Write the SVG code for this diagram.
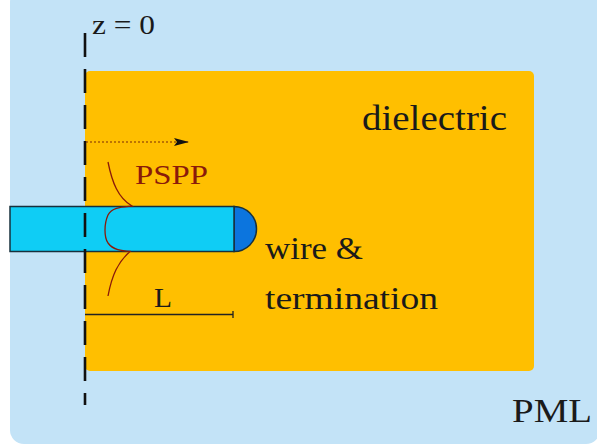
<svg xmlns="http://www.w3.org/2000/svg" width="597" height="448" viewBox="0 0 597 448">
<style>
text{font-family:"Liberation Serif",serif;fill:#1a1a1a}
.out{stroke:#17303c;stroke-width:1.500}
.psp{fill:none;stroke:#8a1a0a;stroke-width:1.300}
</style>
<defs><marker id="a" markerWidth="16" markerHeight="10" refX="14" refY="4" orient="auto" markerUnits="userSpaceOnUse"><path d="M0 0L15 4L0 8L3 4Z" fill="#111"/></marker></defs>
<rect width="597" height="448" fill="#fff"/>
<rect id="pml" x="10" y="-12" width="590" height="456" rx="14" fill="#c3e3f7"/>
<rect id="dielectric" x="85" y="71" width="449" height="300" rx="5" fill="#ffbf00"/>
<g id="wire">
<path class="out" d="M234 206.500A22.500 22.500 0 0 1 234 251.500Z" fill="#0c75de"/>
<rect class="out" x="10" y="206.500" width="224" height="45" fill="#0fcdf5"/>
</g>
<g id="connectors">
<path d="M85 33V405" fill="none" stroke="#111" stroke-width="2.600" stroke-dasharray="24 12"/>
<path d="M86 142H188" fill="none" stroke="#7a2a05" stroke-width="1.200" stroke-dasharray="2 2" marker-end="url(#a)"/>
<path class="psp" d="M108 162C112 182 118 198 132 206C122 207 112 207 108 215C104 224 104 237 108 243C113 250 122 251 130 251.500C118 262 112 275 108 296"/>
<path d="M85 314.500H233M233 311V318" fill="none" stroke="#222" stroke-width="1.300"/>
</g>
<text id="z0" x="92" y="34" font-size="27" textLength="63" lengthAdjust="spacingAndGlyphs">z = 0</text>
<text id="tdielectric" x="362" y="130" font-size="35" textLength="145" lengthAdjust="spacingAndGlyphs">dielectric</text>
<text id="tpspp" x="135" y="184" font-size="28" textLength="73" lengthAdjust="spacingAndGlyphs" style="fill:#8a1a0a">PSPP</text>
<text id="twire" x="265" y="259" font-size="31" textLength="98" lengthAdjust="spacingAndGlyphs">wire &amp;</text>
<text id="ttermination" x="265" y="309" font-size="31" textLength="173" lengthAdjust="spacingAndGlyphs">termination</text>
<text id="tl" x="154" y="307" font-size="27" textLength="18" lengthAdjust="spacingAndGlyphs">L</text>
<text id="tpml" x="512" y="422" font-size="33" textLength="80" lengthAdjust="spacingAndGlyphs">PML</text>
</svg>
